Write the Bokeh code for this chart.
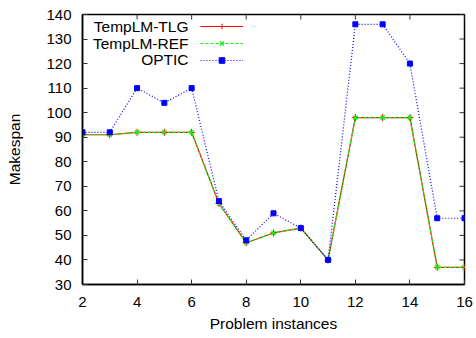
from bokeh.plotting import figure
from bokeh.models import FixedTicker, Legend, LegendItem, Label, Range1d
from bokeh.core.properties import value
from bokeh.embed import file_html
from bokeh.resources import INLINE

instances = [2, 3, 4, 5, 6, 7, 8, 9, 10, 11, 12, 13, 14, 15, 16]
templm_tlg = [91, 91, 92, 92, 92, 63, 47, 51, 53, 40, 98, 98, 98, 37, 37]
templm_ref = [91, 91, 92, 92, 92, 63, 47, 51, 53, 40, 98, 98, 98, 37, 37]
optic = [92, 92, 110, 104, 110, 64, 48, 59, 53, 40, 136, 136, 120, 57, 57]
series_names = ["TempLM-TLG", "TempLM-REF", "OPTIC"]
x_ticks = [2, 4, 6, 8, 10, 12, 14, 16]
y_ticks = [30, 40, 50, 60, 70, 80, 90, 100, 110, 120, 130, 140]

FONT = "Liberation Sans"
X0, X1, Y0, Y1 = 2, 16, 30, 140
W, H = 476, 338
BL, BR, BT, BB = 82, 12, 14, 54
TICK = 5

p = figure(width=W, height=H, output_backend="svg", toolbar_location=None,
           x_range=Range1d(X0, X1), y_range=Range1d(Y0, Y1),
           min_border_left=BL, min_border_right=BR, min_border_top=BT, min_border_bottom=BB,
           background_fill_color="white", border_fill_color="white")
p.xgrid.visible = False
p.ygrid.visible = False
p.outline_line_color = "black"
p.outline_line_width = 1.5

p.xaxis.ticker = FixedTicker(ticks=x_ticks)
p.yaxis.ticker = FixedTicker(ticks=y_ticks)
for ax in [p.xaxis[0], p.yaxis[0]]:
    ax.major_tick_in = TICK
    ax.major_tick_out = 0
    ax.minor_tick_in = 0
    ax.minor_tick_out = 0
    ax.axis_line_color = "black"
    ax.axis_line_width = 1.5
    ax.major_tick_line_color = "#333333"
    ax.major_label_text_font = FONT
    ax.major_label_text_font_size = "15px"
    ax.major_label_text_color = "black"
    ax.axis_label_text_font = FONT
    ax.axis_label_text_font_size = "15.5px"
    ax.axis_label_text_font_style = "normal"
    ax.axis_label_text_color = "black"
p.xaxis.axis_label = "Problem instances"
p.yaxis.axis_label = "Makespan"
p.xaxis.major_label_standoff = 12
p.yaxis.major_label_standoff = 11
p.xaxis.axis_label_standoff = 5
p.yaxis.axis_label_standoff = 20

# mirrored ticks on top and right border (tick length in data units from the scales)
fw = W - BL - BR
fh = H - BT - BB
dx = TICK * (X1 - X0) / fw
dy = TICK * (Y1 - Y0) / fh
p.segment(x0=x_ticks, x1=x_ticks, y0=[Y1] * len(x_ticks), y1=[Y1 - dy] * len(x_ticks),
          line_color="#333333", line_width=1)
p.segment(x0=[X1] * len(y_ticks), x1=[X1 - dx] * len(y_ticks), y0=y_ticks, y1=y_ticks,
          line_color="#333333", line_width=1)

l1 = p.line(instances, templm_tlg, line_color="#ff0000", line_width=1.2)
m1 = p.scatter(instances, templm_tlg, marker="cross", size=7, line_color="#ff0000", line_width=1)
l2 = p.line(instances, templm_ref, line_color="#00ff00", line_width=1.2, line_dash="3 2")
m2 = p.scatter(instances, templm_ref, marker="x", size=6, line_color="#00ff00", line_width=1.2)
l3 = p.line(instances, optic, line_color="#0000ff", line_width=1.2, line_dash="1 2")
m3 = p.scatter(instances, optic, marker="square", size=5, line_color="#0000ff", fill_color="#0000ff", line_width=1)

legend = Legend(items=[
    LegendItem(label=value(" "), renderers=[l1, m1]),
    LegendItem(label=value(" "), renderers=[l2, m2]),
    LegendItem(label=value(" "), renderers=[l3, m3]),
], location=(118, 217), orientation="vertical", glyph_width=43, glyph_height=14,
    spacing=3, padding=0, margin=0, label_standoff=0,
    background_fill_alpha=0, border_line_alpha=0, label_text_font_size="1px")
p.add_layout(legend, "center")

ys = [258, 241, 225]
for name, y in zip(series_names, ys):
    p.add_layout(Label(x=106, y=y, x_units="screen", y_units="screen", text=name,
                       text_align="right", text_baseline="middle",
                       text_font=FONT, text_font_size="15.5px", text_color="black"))

open("out.html", "w").write(file_html(p, INLINE))
